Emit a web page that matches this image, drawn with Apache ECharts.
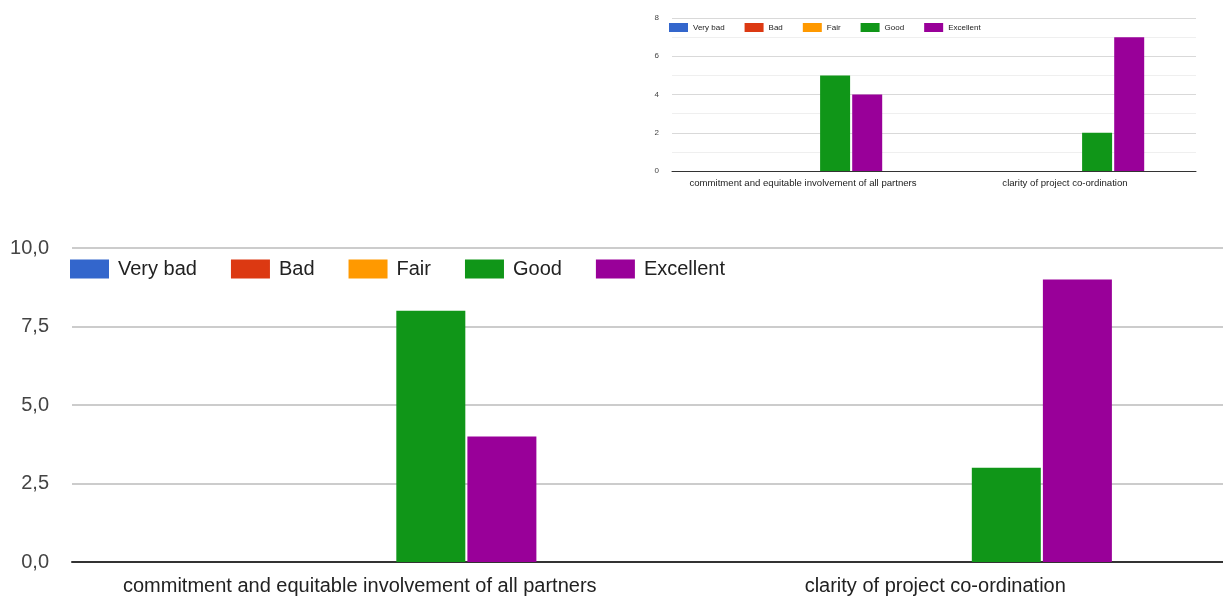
<!DOCTYPE html>
<html>
<head>
<meta charset="utf-8">
<script src="https://cdn.jsdelivr.net/npm/echarts@6/dist/echarts.min.js"></script>
<style>
  html, body { margin: 0; padding: 0; background: #fff; }
  #chart { width: 1223px; height: 596px; }
</style>
</head>
<body>
<div id="chart"></div>
<script>
// Rating categories and colours
const categories = ['commitment and equitable involvement of all partners', 'clarity of project co-ordination'];
const levels = ['Very bad', 'Bad', 'Fair', 'Good', 'Excellent'];
const levelColors = ['#3366cc', '#dc3912', '#ff9900', '#109618', '#990099'];

// First survey (small panel): counts per rating
const smallVeryBad = [0, 0];
const smallBad = [0, 0];
const smallFair = [0, 0];
const smallGood = [5, 2];
const smallExcellent = [4, 7];

// Second survey (large panel): counts per rating
const bigVeryBad = [0, 0];
const bigBad = [0, 0];
const bigFair = [0, 0];
const bigGood = [8, 3];
const bigExcellent = [4, 9];

// Axis ticks
const smallTicks = [0, 2, 4, 6, 8];
const bigTicks = [0, 2.5, 5, 7.5, 10];

const smallData = [smallVeryBad, smallBad, smallFair, smallGood, smallExcellent];
const bigData = [bigVeryBad, bigBad, bigFair, bigGood, bigExcellent];

const font = 'Liberation Sans, Arial, sans-serif';

function barSeries(data, axisIndex, width, gap) {
  return levels.map((name, i) => ({
    name: name,
    type: 'bar',
    xAxisIndex: axisIndex,
    yAxisIndex: axisIndex,
    data: data[i],
    barWidth: width,
    barGap: gap,
    itemStyle: { color: levelColors[i] },
    emphasis: { disabled: true },
    silent: true
  }));
}

const chart = echarts.init(document.getElementById('chart'), null, { renderer: 'canvas' });

chart.setOption({
  animation: false,
  backgroundColor: '#ffffff',
  color: levelColors,
  textStyle: { fontFamily: font },
  legend: [
    {
      data: levels,
      left: 664, top: 18,
      itemWidth: 19, itemHeight: 9, itemGap: 20,
      icon: 'rect',
      selectedMode: false,
      textStyle: { fontSize: 8, color: '#222', fontFamily: font }
    },
    {
      data: levels,
      left: 65, top: 254,
      itemWidth: 39, itemHeight: 19, itemGap: 34,
      icon: 'rect',
      selectedMode: false,
      textStyle: { fontSize: 20, color: '#222', fontFamily: font, padding: [0, 0, 0, 4] }
    }
  ],
  grid: [
    { left: 672, right: 27, top: 18, bottom: 425, containLabel: false },
    { left: 72, right: -1, top: 248, bottom: 33, containLabel: false }
  ],
  xAxis: [
    {
      gridIndex: 0, type: 'category', data: categories,
      axisTick: { show: false },
      axisLine: { lineStyle: { color: '#333', width: 1 } },
      axisLabel: { fontSize: 9.6, color: '#222', margin: 7, fontFamily: font, interval: 0 }
    },
    {
      gridIndex: 1, type: 'category', data: categories,
      axisTick: { show: false },
      axisLine: { lineStyle: { color: '#333', width: 2 } },
      axisLabel: { fontSize: 20, color: '#222', margin: 14, fontFamily: font, interval: 0 }
    }
  ],
  yAxis: [
    {
      gridIndex: 0, type: 'value',
      min: smallTicks[0], max: smallTicks[smallTicks.length - 1], interval: smallTicks[1] - smallTicks[0],
      axisLine: { show: false }, axisTick: { show: false },
      axisLabel: { fontSize: 8, color: '#444', margin: 13, fontFamily: font },
      splitLine: { lineStyle: { color: '#d9d9d9', width: 1 } },
      minorTick: { show: false, splitNumber: 2 },
      minorSplitLine: { show: true, lineStyle: { color: '#efefef', width: 1 } }
    },
    {
      gridIndex: 1, type: 'value',
      min: bigTicks[0], max: bigTicks[bigTicks.length - 1], interval: bigTicks[1] - bigTicks[0],
      axisLine: { show: false }, axisTick: { show: false },
      axisLabel: {
        fontSize: 20, color: '#444', margin: 23, fontFamily: font,
        formatter: v => v.toFixed(1).replace('.', ',')
      },
      splitLine: { lineStyle: { color: '#cccccc', width: 2 } }
    }
  ],
  series: [
    ...barSeries(smallData, 0, 30, '7%'),
    ...barSeries(bigData, 1, 69, '3%')
  ]
});
</script>
</body>
</html>
